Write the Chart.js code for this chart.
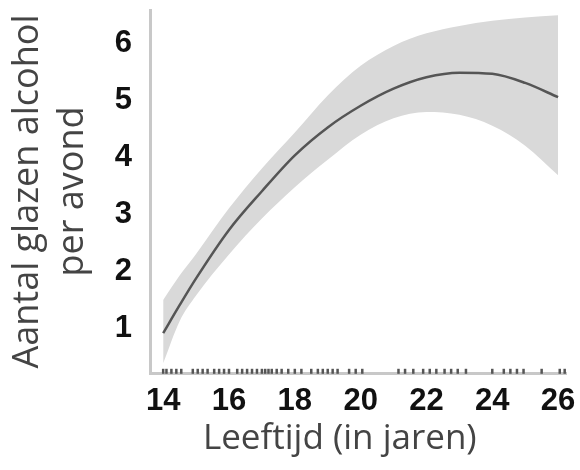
<!DOCTYPE html>
<html lang="nl">
<head>
<meta charset="UTF-8">
<title>Leeftijd en alcoholgebruik</title>
<script src="https://cdn.jsdelivr.net/npm/chart.js"></script>
<style>
    html, body { margin: 0; padding: 0; background: #fff; }
</style>
</head>
<body>
<canvas id="alcoholChart" width="580" height="470"></canvas>
<script>
    // Values
    const ages   = [14, 14.5, 15, 16, 17, 18, 19, 20, 21, 22, 23, 24, 25, 26];
    const fitted = [0.91, 1.4, 1.87, 2.72, 3.4, 4.03, 4.52, 4.9, 5.2, 5.4, 5.48, 5.46, 5.3, 5.05];
    const upper  = [1.49, 1.92, 2.3, 3.1, 3.8, 4.43, 5.08, 5.6, 5.95, 6.17, 6.3, 6.39, 6.45, 6.49];
    const lower  = [0.38, 1.12, 1.57, 2.29, 2.92, 3.47, 3.95, 4.39, 4.68, 4.79, 4.74, 4.55, 4.2, 3.68];
    // rug marks along the x axis (observed ages)
    const rugAges = [14, 14.1, 14.25, 14.4, 14.55, 14.9, 15.05, 15.2, 15.35, 15.55, 15.7, 15.85,
        16.0, 16.25, 16.4, 16.55, 16.7, 16.85, 17.0, 17.1, 17.2, 17.3, 17.45, 17.6, 17.8, 18.0,
        18.2, 18.5, 18.7, 18.85, 19.0, 19.15, 19.3, 19.65, 19.85, 20.05, 21.15, 21.35, 21.6,
        21.9, 22.1, 22.3, 22.55, 22.75, 22.95, 23.2, 24.0, 24.35, 24.55, 24.75, 24.95, 25.5,
        26.05, 26.2];
    const xTicks = [14, 16, 18, 20, 22, 24, 26];
    const yTicks = [1, 2, 3, 4, 5, 6];

    const xMin = 13.6, xMax = 26.24;
    const yMin = 0.21, yMax = 6.58;

    const pts = arr => ages.map((a, i) => ({ x: a, y: arr[i] }));
    const tickFont = { family: "'Liberation Sans', Arial, sans-serif", size: 31, weight: 'bold' };
    const titleFamily = "'Open Sans', 'Noto Sans', sans-serif";

    new Chart(document.getElementById('alcoholChart'), {
        type: 'line',
        data: {
            datasets: [
                {
                    label: 'fit',
                    data: pts(fitted),
                    borderColor: '#555',
                    borderWidth: 2.5,
                    pointRadius: 0,
                    fill: false,
                    cubicInterpolationMode: 'monotone'
                },
                {
                    label: 'upper',
                    data: pts(upper),
                    borderWidth: 0,
                    pointRadius: 0,
                    backgroundColor: '#d9d9d9',
                    fill: '+1',
                    cubicInterpolationMode: 'monotone'
                },
                {
                    label: 'lower',
                    data: pts(lower),
                    borderWidth: 0,
                    pointRadius: 0,
                    fill: false,
                    cubicInterpolationMode: 'monotone'
                },
                {
                    type: 'scatter',
                    label: 'rug',
                    data: rugAges.map(a => ({ x: a, y: yMin + 0.03 })),
                    pointStyle: 'line',
                    rotation: 90,
                    pointRadius: 2.5,
                    borderColor: '#555',
                    borderWidth: 2.5,
                    clip: false
                }
            ]
        },
        options: {
            responsive: false,
            animation: false,
            layout: { padding: { top: 10, right: 14, left: 0, bottom: 0 } },
            plugins: {
                legend: { display: false },
                tooltip: { enabled: false }
            },
            scales: {
                x: {
                    type: 'linear',
                    min: xMin,
                    max: xMax,
                    afterBuildTicks: s => { s.ticks = xTicks.map(v => ({ value: v })); },
                    afterFit: s => { s.height = 97; s.paddingLeft = 0; s.paddingRight = 0; },
                    grid: { display: false, drawTicks: false },
                    border: { display: true, color: '#c8c8c8', width: 3 },
                    ticks: { font: tickFont, color: '#111', padding: 10, maxRotation: 0 },
                    title: {
                        display: true,
                        text: 'Leeftijd (in jaren)    ',
                        font: { family: titleFamily, size: 35, lineHeight: 1.2 },
                        color: '#444',
                        padding: { top: 0, bottom: 10 }
                    }
                },
                y: {
                    type: 'linear',
                    min: yMin,
                    max: yMax,
                    afterBuildTicks: s => { s.ticks = yTicks.map(v => ({ value: v })); },
                    afterFit: s => { s.width = 150; s.paddingTop = 0; s.paddingBottom = 0; },
                    grid: { display: false, drawTicks: false },
                    border: { display: true, color: '#c8c8c8', width: 3 },
                    ticks: { font: tickFont, color: '#111', padding: 18 },
                    title: {
                        display: true,
                        text: ['Aantal glazen alcohol', 'per avond'],
                        font: { family: titleFamily, size: 36, lineHeight: 1.25 },
                        color: '#444',
                        padding: { top: 5.5, bottom: 0 }
                    }
                }
            }
        }
    });
</script>
</body>
</html>
